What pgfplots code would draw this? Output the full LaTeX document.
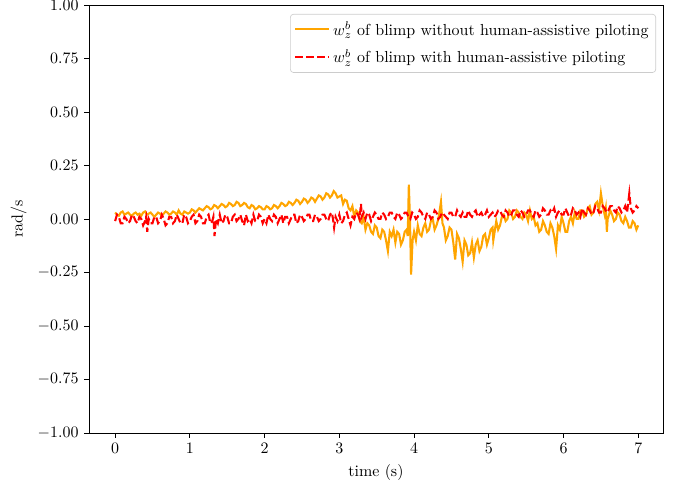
\documentclass[border=0pt]{standalone}
\usepackage{pgfplots}
\pgfplotsset{compat=1.18}
\definecolor{mplorange}{HTML}{FFA500}
\definecolor{legframe}{HTML}{CCCCCC}
\pgfplotsset{
  legend image code/.code={\draw[mark repeat=2,mark phase=2] plot coordinates {(0pt,0pt) (10.5pt,0pt) (21pt,0pt)};},
}
\begin{document}
\begin{tikzpicture}
\useasboundingbox (-55.7pt,-31.9pt) rectangle (368.2pt,271.1pt);
\begin{axis}[
  scale only axis,
  width=359.4pt, height=268.0pt,
  xmin=-0.35, xmax=7.33,
  ymin=-1, ymax=1,
  xtick={0,1,2,3,4,5,6,7},
  ytick={-1,-0.75,-0.5,-0.25,0,0.25,0.5,0.75,1},
  yticklabel style={/pgf/number format/fixed,/pgf/number format/fixed zerofill,/pgf/number format/precision=2},
  xticklabel style={/pgf/number format/fixed},
  tick align=outside,
  xtick pos=bottom, ytick pos=left,
  major tick length=3pt,
  tick style={black, line width=0.52pt},
  axis line style={line width=0.52pt},
  xlabel={time (s)},
  ylabel={rad/s},
  legend cell align=left,
  legend style={at={(0.988,0.979)}, anchor=north east, draw=legframe, rounded corners=2pt, inner xsep=2.5pt, inner ysep=2.5pt, row sep=3.5pt},
]
\addplot[mplorange, line width=1.3pt] coordinates {
(0.000,0.03) (0.025,0.02) (0.050,0.015) (0.075,0.03) (0.100,0.035) (0.125,0.02) (0.150,0.025) (0.175,0.03) (0.200,0.02) (0.225,0.015)
(0.250,0.025) (0.275,0.03) (0.300,0.02) (0.325,0.025) (0.350,0.015) (0.375,0.03) (0.400,0.035) (0.425,0.02) (0.450,0.025) (0.475,0.03)
(0.500,0.02) (0.525,0.01) (0.550,0.02) (0.575,0.03) (0.600,0.025) (0.625,0.015) (0.650,0.025) (0.675,0.035) (0.700,0.03) (0.725,0.02)
(0.750,0.025) (0.775,0.035) (0.800,0.03) (0.825,0.02) (0.850,0.04) (0.875,0.025) (0.900,0.02) (0.925,0.035) (0.950,0.03) (0.975,0.025)
(1.000,0.03) (1.025,0.045) (1.050,0.04) (1.075,0.03) (1.100,0.04) (1.125,0.05) (1.150,0.045) (1.175,0.04) (1.200,0.05) (1.225,0.06)
(1.250,0.055) (1.275,0.045) (1.300,0.05) (1.325,0.065) (1.350,0.06) (1.375,0.05) (1.400,0.06) (1.425,0.07) (1.450,0.065) (1.475,0.055)
(1.500,0.06) (1.525,0.075) (1.550,0.07) (1.575,0.06) (1.600,0.065) (1.625,0.08) (1.650,0.075) (1.675,0.06) (1.700,0.065) (1.725,0.075)
(1.750,0.07) (1.775,0.055) (1.800,0.05) (1.825,0.065) (1.850,0.06) (1.875,0.045) (1.900,0.05) (1.925,0.06) (1.950,0.055) (1.975,0.045)
(2.000,0.045) (2.025,0.06) (2.050,0.055) (2.075,0.045) (2.100,0.05) (2.125,0.065) (2.150,0.06) (2.175,0.05) (2.200,0.06) (2.225,0.075)
(2.250,0.07) (2.275,0.06) (2.300,0.065) (2.325,0.08) (2.350,0.075) (2.375,0.065) (2.400,0.075) (2.425,0.09) (2.450,0.085) (2.475,0.07)
(2.500,0.08) (2.525,0.095) (2.550,0.09) (2.575,0.075) (2.600,0.085) (2.625,0.10) (2.650,0.095) (2.675,0.08) (2.700,0.095) (2.725,0.11)
(2.750,0.105) (2.775,0.09) (2.800,0.10) (2.825,0.12) (2.850,0.115) (2.875,0.10) (2.900,0.11) (2.925,0.13) (2.950,0.12) (2.975,0.10)
(3.000,0.105) (3.025,0.11) (3.050,0.07) (3.075,0.09) (3.100,0.085) (3.125,0.05) (3.150,0.04) (3.175,0.06) (3.200,0.01) (3.225,0.04)
(3.250,0.03) (3.275,-0.01) (3.300,-0.02) (3.325,0.01) (3.350,-0.05) (3.375,-0.02) (3.400,-0.03) (3.425,-0.06) (3.450,-0.07) (3.475,-0.03)
(3.500,-0.04) (3.525,-0.08) (3.550,-0.09) (3.575,-0.05) (3.600,-0.06) (3.625,-0.10) (3.650,-0.15) (3.675,-0.06) (3.700,-0.08) (3.725,-0.05)
(3.750,-0.11) (3.775,-0.06) (3.800,-0.07) (3.825,-0.12) (3.850,-0.10) (3.875,-0.06) (3.900,-0.05) (3.915,-0.08) (3.930,0.16) (3.945,0.00)
(3.960,-0.26) (3.980,-0.10) (4.000,-0.06) (4.025,-0.10) (4.050,-0.03) (4.075,-0.07) (4.100,-0.08) (4.125,-0.04) (4.150,-0.02) (4.175,-0.06)
(4.200,-0.05) (4.225,-0.01) (4.250,0.00) (4.275,-0.05) (4.300,-0.03) (4.325,0.00) (4.360,0.08) (4.380,-0.02) (4.400,-0.04) (4.425,-0.10)
(4.450,-0.08) (4.475,-0.04) (4.500,-0.05) (4.525,-0.11) (4.550,-0.19) (4.575,-0.07) (4.600,-0.09) (4.625,-0.14) (4.650,-0.20) (4.675,-0.10)
(4.700,-0.12) (4.725,-0.17) (4.750,-0.16) (4.775,-0.11) (4.800,-0.18) (4.825,-0.12) (4.850,-0.10) (4.875,-0.15) (4.900,-0.13) (4.925,-0.08)
(4.950,-0.07) (4.975,-0.12) (5.000,-0.09) (5.025,-0.05) (5.050,-0.04) (5.060,-0.10) (5.100,-0.01) (5.125,-0.05) (5.150,-0.03) (5.175,0.01)
(5.200,0.02) (5.225,-0.01) (5.250,0.00) (5.275,0.04) (5.300,0.03) (5.325,0.00) (5.350,0.01) (5.375,0.04) (5.400,0.03) (5.425,0.01)
(5.450,0.00) (5.475,0.03) (5.500,0.02) (5.525,-0.01) (5.550,0.04) (5.575,0.00) (5.600,0.01) (5.625,-0.03) (5.650,-0.02) (5.675,-0.06)
(5.700,-0.05) (5.725,-0.01) (5.750,-0.03) (5.775,-0.06) (5.800,-0.07) (5.825,-0.02) (5.850,-0.04) (5.875,-0.08) (5.900,-0.14) (5.925,-0.03)
(5.950,-0.05) (5.975,0.01) (6.000,-0.02) (6.025,-0.06) (6.050,-0.06) (6.075,-0.01) (6.100,0.01) (6.125,-0.02) (6.150,0.03) (6.175,0.00)
(6.200,0.00) (6.225,0.04) (6.250,0.04) (6.275,0.01) (6.300,0.02) (6.325,0.05) (6.350,0.06) (6.375,0.02) (6.400,0.03) (6.425,0.07)
(6.450,0.08) (6.475,0.04) (6.500,0.12) (6.525,0.06) (6.550,0.02) (6.565,0.05) (6.580,-0.06) (6.590,0.00) (6.600,0.01) (6.625,0.04)
(6.650,0.02) (6.675,-0.01) (6.700,0.00) (6.725,0.03) (6.750,0.02) (6.775,-0.01) (6.800,-0.02) (6.825,0.01) (6.850,-0.01) (6.875,-0.04)
(6.900,-0.04) (6.925,-0.01) (6.950,-0.02) (6.975,-0.05) (7.000,-0.03)
};
\addlegendentry{$w_z^b$ of blimp without human-assistive piloting}
\addplot[red, line width=1.3pt, dash pattern=on 4.8pt off 2.1pt] coordinates {
(0.000,-0.01) (0.025,0.02) (0.050,0.01) (0.075,-0.02) (0.100,-0.02) (0.125,0.01) (0.150,0.00) (0.175,-0.02) (0.200,-0.01) (0.225,0.02)
(0.250,0.01) (0.275,-0.01) (0.300,-0.02) (0.325,0.01) (0.350,0.00) (0.375,-0.03) (0.400,-0.01) (0.415,0.01) (0.430,-0.06) (0.450,0.00)
(0.475,-0.02) (0.500,-0.02) (0.525,0.01) (0.550,0.01) (0.575,-0.02) (0.600,-0.01) (0.625,0.02) (0.650,0.00) (0.675,-0.03) (0.700,-0.02)
(0.725,0.01) (0.750,0.01) (0.775,-0.02) (0.800,-0.01) (0.825,0.02) (0.850,0.00) (0.875,-0.02) (0.900,-0.02) (0.925,0.02) (0.950,0.01)
(0.975,-0.02) (1.000,-0.01) (1.025,0.01) (1.050,0.02) (1.075,-0.02) (1.100,-0.01) (1.125,0.02) (1.150,0.01) (1.175,-0.02) (1.200,-0.02)
(1.225,0.01) (1.250,0.02) (1.275,-0.02) (1.300,-0.01) (1.315,0.01) (1.330,-0.08) (1.350,0.00) (1.375,-0.02) (1.400,0.02) (1.425,-0.02)
(1.450,-0.01) (1.475,0.02) (1.500,0.01) (1.525,-0.02) (1.550,-0.02) (1.575,0.01) (1.600,0.02) (1.625,-0.01) (1.650,0.00) (1.675,0.02)
(1.700,-0.01) (1.725,-0.03) (1.750,0.02) (1.775,-0.01) (1.800,0.00) (1.825,-0.02) (1.850,0.02) (1.875,-0.01) (1.900,-0.01) (1.925,0.02)
(1.950,0.01) (1.975,-0.02) (2.000,0.00) (2.025,-0.02) (2.050,0.02) (2.075,0.00) (2.100,-0.01) (2.125,0.02) (2.150,0.01) (2.175,-0.02)
(2.200,0.00) (2.225,0.02) (2.250,-0.02) (2.275,0.01) (2.300,0.01) (2.325,-0.02) (2.350,0.00) (2.375,0.02) (2.400,0.02) (2.425,-0.02)
(2.450,-0.01) (2.475,0.02) (2.500,0.01) (2.525,-0.01) (2.550,0.00) (2.575,0.02) (2.600,0.02) (2.625,-0.01) (2.650,-0.01) (2.675,0.02)
(2.700,0.01) (2.725,-0.01) (2.750,0.00) (2.775,0.02) (2.800,0.02) (2.825,0.00) (2.850,-0.01) (2.875,0.02) (2.900,0.03) (2.915,0.00)
(2.930,-0.04) (2.950,0.01) (2.975,-0.01) (3.000,0.02) (3.025,-0.02) (3.050,-0.01) (3.075,0.02) (3.100,0.03) (3.125,0.00) (3.150,-0.03)
(3.175,0.01) (3.200,0.00) (3.225,0.03) (3.250,0.02) (3.270,0.00) (3.290,0.07) (3.300,0.01) (3.325,0.03) (3.350,0.00) (3.375,0.03)
(3.400,0.02) (3.425,-0.01) (3.450,0.01) (3.475,0.03) (3.500,0.02) (3.525,0.00) (3.550,0.00) (3.575,0.03) (3.600,0.02) (3.625,0.00)
(3.650,0.01) (3.675,0.03) (3.700,0.03) (3.725,0.01) (3.750,0.00) (3.775,0.03) (3.800,0.02) (3.825,0.00) (3.850,0.01) (3.875,0.03)
(3.900,0.03) (3.925,0.01) (3.950,0.00) (3.975,0.03) (4.000,0.02) (4.025,0.00) (4.050,0.01) (4.075,0.04) (4.100,0.03) (4.125,0.01)
(4.150,0.00) (4.175,0.03) (4.200,0.02) (4.225,0.00) (4.250,0.01) (4.275,0.04) (4.300,0.03) (4.325,0.00) (4.350,0.01) (4.375,0.03)
(4.400,0.02) (4.425,0.01) (4.450,0.00) (4.475,0.03) (4.500,0.03) (4.525,0.01) (4.550,0.01) (4.575,0.04) (4.600,0.02) (4.625,0.01)
(4.650,0.03) (4.675,0.01) (4.700,0.01) (4.725,0.04) (4.750,0.02) (4.775,0.01) (4.800,0.03) (4.825,0.04) (4.850,0.01) (4.875,0.02)
(4.900,0.03) (4.925,0.01) (4.950,0.02) (4.975,0.04) (5.000,0.01) (5.025,0.02) (5.050,0.03) (5.075,0.01) (5.100,0.02) (5.125,0.04)
(5.150,0.04) (5.175,0.02) (5.200,0.01) (5.225,0.04) (5.250,0.03) (5.275,0.01) (5.300,0.02) (5.325,0.04) (5.350,0.04) (5.375,0.02)
(5.400,0.01) (5.425,0.04) (5.450,0.03) (5.475,0.01) (5.500,0.02) (5.525,0.04) (5.550,0.04) (5.575,0.02) (5.600,0.01) (5.625,0.04)
(5.650,0.03) (5.675,0.01) (5.700,0.02) (5.725,0.05) (5.750,0.04) (5.775,0.02) (5.800,0.02) (5.825,0.04) (5.850,0.03) (5.875,0.05)
(5.900,0.01) (5.925,0.03) (5.950,0.04) (5.975,0.02) (6.000,0.02) (6.025,0.05) (6.050,0.03) (6.075,0.01) (6.100,0.02) (6.125,0.05)
(6.150,0.04) (6.175,0.02) (6.200,0.03) (6.225,0.01) (6.250,0.05) (6.275,0.03) (6.300,0.02) (6.325,0.05) (6.350,0.04) (6.375,0.02)
(6.400,0.03) (6.425,0.06) (6.450,0.05) (6.475,0.03) (6.500,0.03) (6.525,0.06) (6.550,0.05) (6.575,0.03) (6.600,0.04) (6.625,0.06)
(6.650,0.06) (6.675,0.04) (6.700,0.03) (6.725,0.06) (6.750,0.05) (6.775,0.03) (6.800,0.04) (6.825,0.06) (6.850,0.03) (6.880,0.12)
(6.900,0.05) (6.925,0.03) (6.950,0.04) (6.975,0.06) (7.000,0.05)
};
\addlegendentry{$w_z^b$ of blimp with human-assistive piloting}
\end{axis}
\end{tikzpicture}
\end{document}
